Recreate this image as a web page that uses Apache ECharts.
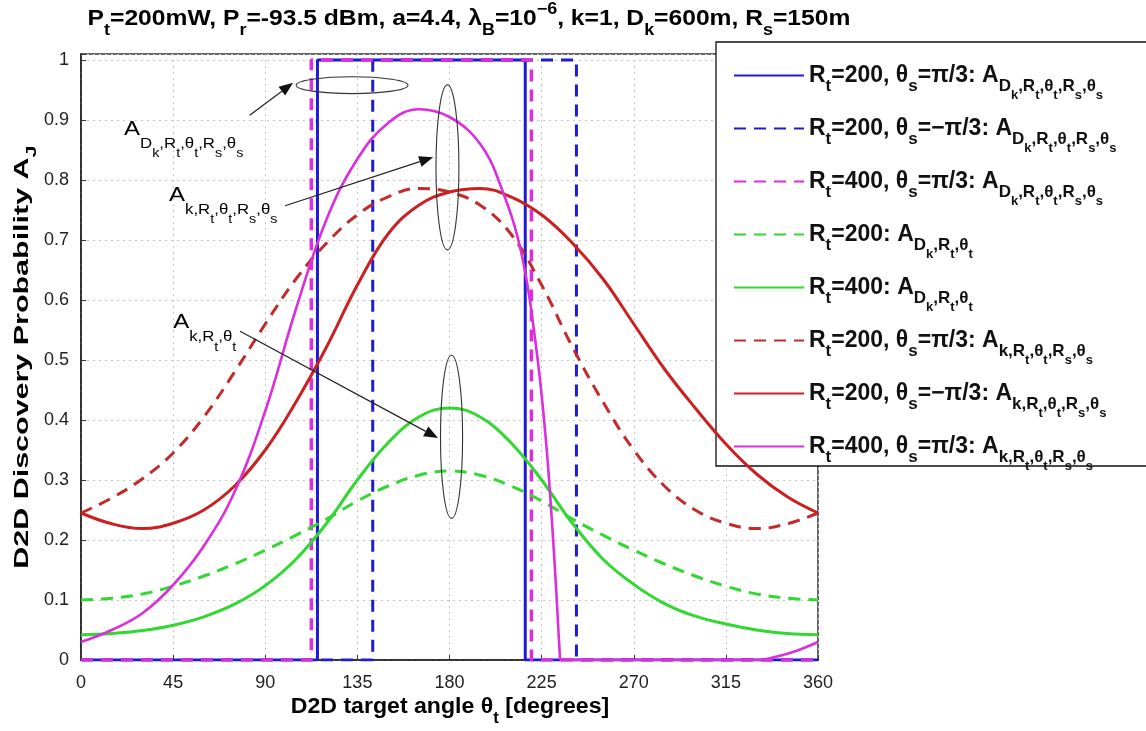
<!DOCTYPE html>
<html><head><meta charset="utf-8">
<script src="https://cdn.jsdelivr.net/npm/echarts@6/dist/echarts.min.js"></script>
<style>html,body{margin:0;padding:0;background:#fff}#c{width:1146px;height:731px}</style>
</head><body><div id="c"></div>
<script>
// ---- data ----
const angles = [0,15,30,45,60,75,90,105,120,135,150,165,180,195,210,225,240,255,270,285,300,315,330,345,360];
const greenDashed = [0.100,0.103,0.110,0.123,0.140,0.160,0.183,0.208,0.235,0.265,0.290,0.308,0.315,0.308,0.290,0.265,0.235,0.208,0.183,0.160,0.140,0.123,0.110,0.103,0.100];
const greenSolid  = [0.042,0.044,0.049,0.058,0.072,0.093,0.124,0.168,0.228,0.300,0.362,0.405,0.420,0.405,0.362,0.300,0.228,0.168,0.126,0.094,0.073,0.060,0.050,0.044,0.042];
const redDashed   = [0.245,0.270,0.302,0.345,0.405,0.480,0.560,0.635,0.695,0.742,0.772,0.786,0.780,0.758,0.710,0.625,0.522,0.430,0.350,0.290,0.250,0.228,0.219,0.227,0.245];
const redSolid    = [0.245,0.227,0.219,0.228,0.250,0.290,0.350,0.430,0.522,0.625,0.710,0.758,0.780,0.786,0.772,0.742,0.695,0.635,0.560,0.485,0.420,0.360,0.310,0.272,0.245];
const magentaAngles = [0,15,30,45,60,75,90,105,120,135,150,165,180,195,205,215,222,227,231,234];
const magentaSolid  = [0.030,0.050,0.078,0.125,0.190,0.280,0.415,0.585,0.735,0.835,0.895,0.918,0.905,0.860,0.790,0.680,0.530,0.370,0.180,0.000];
const magentaTailAngles = [234,330,340,350,360];
const magentaTail       = [0.000,0.000,0.006,0.016,0.030];
const blueSolidAngles   = [0,115.5,115.5,217,217,360];
const blueDashedAngles  = [0,142.5,142.5,242,242,360];
const magDashedAngles   = [0,112.5,112.5,220,220,360];
const rectValues        = [0,0,1,1,0,0];
const xTicks = [0,45,90,135,180,225,270,315,360];
const yTicks = [0,0.1,0.2,0.3,0.4,0.5,0.6,0.7,0.8,0.9,1];

const subD = '{s|D}{ss|k}{s|,R}{ss|t}{s|,θ}{ss|t}{s|,R}{ss|s}{s|,θ}{ss|s}';
const subK = '{s|k,R}{ss|t}{s|,θ}{ss|t}{s|,R}{ss|s}{s|,θ}{ss|s}';
const legendText = {
  s1: '{b|R}{s|t}{b|=200, θ}{s|s}{b|=π/3: A}' + subD,
  s2: '{b|R}{s|t}{b|=200, θ}{s|s}{b|=−π/3: A}' + subD,
  s3: '{b|R}{s|t}{b|=400, θ}{s|s}{b|=π/3: A}' + subD,
  s4: '{b|R}{s|t}{b|=200: A}{s|D}{ss|k}{s|,R}{ss|t}{s|,θ}{ss|t}',
  s5: '{b|R}{s|t}{b|=400: A}{s|D}{ss|k}{s|,R}{ss|t}{s|,θ}{ss|t}',
  s6: '{b|R}{s|t}{b|=200, θ}{s|s}{b|=π/3: A}' + subK,
  s7: '{b|R}{s|t}{b|=200, θ}{s|s}{b|=−π/3: A}' + subK,
  s8: '{b|R}{s|t}{b|=400, θ}{s|s}{b|=π/3: A}' + subK
};

const FONT = 'Liberation Sans';
// shift: vertical offset of a token's centre (px, + = down), done with asymmetric padding
function pad(shift) { return shift >= 0 ? [Math.round(2*shift),0,0,0] : [0,0,Math.round(-2*shift),0]; }
function richSet(weight, base, o) {
  o = o || {};
  const c = o.color || '#111';
  const bs = o.baseShift || 0, sd = o.sub || 0.66*base, ssd = o.subsub || 1.15*base, sp = o.sup || 0.45*base;
  const s = Math.round(base * 0.72), ss = o.ssSize || Math.round(base * 0.6);
  return {
    b:  {fontFamily: FONT, fontWeight: weight, fontSize: base, color: c, lineHeight: base, padding: pad(bs)},
    s:  {fontFamily: FONT, fontWeight: weight, fontSize: s, color: c, lineHeight: s, padding: pad(bs + sd)},
    ss: {fontFamily: FONT, fontWeight: weight, fontSize: ss, color: c, lineHeight: ss, padding: pad(bs + ssd)},
    p:  {fontFamily: FONT, fontWeight: weight, fontSize: s, color: c, lineHeight: s, padding: pad(bs - sp)}
  };
}

const BLUE = '#1c1cd2', MAG = '#dc2edc', GREEN = '#30d830', RED = '#cc2020', RED2 = '#c42a2a';
const DASH = [12, 8];
function pairs(xs, ys) { return xs.map((x, i) => [x, ys[i]]); }
function mk(id, xs, ys, color, dashed, width, smooth) {
  return {
    name: id, type: 'line', data: pairs(xs, ys), symbol: 'none', showSymbol: false,
    smooth: smooth ? 0.4 : false, silent: true,
    lineStyle: {color: color, width: width, type: dashed ? DASH : 'solid', cap: 'butt'},
    itemStyle: {color: color}
  };
}

const chart = echarts.init(document.getElementById('c'), null, {renderer: 'canvas'});
const option = {
  animation: false,
  backgroundColor: '#fff',
  grid: {left: 81, right: 328, top: 54, bottom: 71, show: true, borderColor: '#666', borderWidth: 2, backgroundColor: 'transparent'},
  xAxis: {
    type: 'value', min: 0, max: 360, interval: 45,
    axisLine: {show: true, onZero: false, lineStyle: {color: '#222', width: 1.5}},
    axisTick: {show: true, inside: true, length: 5, lineStyle: {color: '#333'}},
    axisLabel: {fontFamily: FONT, fontSize: 18, color: '#222', margin: 14,
      formatter: v => xTicks.includes(v) ? String(v) : ''},
    splitLine: {show: true, lineStyle: {color: '#c8c8c8', type: [2, 4], width: 1}}
  },
  yAxis: {
    type: 'value', min: 0, max: 1.01, interval: 0.1,
    axisLine: {show: true, onZero: false, lineStyle: {color: '#222', width: 1.5}},
    axisTick: {show: true, inside: true, length: 5, lineStyle: {color: '#333'}},
    axisLabel: {fontFamily: FONT, fontSize: 18, color: '#222', margin: 12,
      formatter: v => { const t = yTicks.find(y => Math.abs(y - v) < 1e-6); return t === undefined ? '' : String(t); }},
    splitLine: {show: true, lineStyle: {color: '#c8c8c8', type: [2, 4], width: 1}}
  },
  legend: {
    orient: 'vertical', left: 716, top: 42, z: 5,
    backgroundColor: 'transparent', borderWidth: 0,
    padding: [7, 120, 2, 17], itemGap: 0, itemWidth: 70, itemHeight: 14,
    data: ['s1','s2','s3','s4','s5','s6','s7','s8'],
    formatter: n => legendText[n],
    itemStyle: {opacity: 0},
    textStyle: {rich: richSet('bold', 23, {sub: 11, subsub: 20, ssSize: 13})}
  },
  series: [
    mk('s1', blueSolidAngles, rectValues, BLUE, false, 3, false),
    mk('s2', blueDashedAngles, rectValues, BLUE, true, 3, false),
    mk('s3', magDashedAngles, rectValues, MAG, true, 3.5, false),
    mk('s4', angles, greenDashed, GREEN, true, 3, true),
    mk('s5', angles, greenSolid, GREEN, false, 3, true),
    mk('s6', angles, redDashed, RED2, true, 3, true),
    mk('s7', angles, redSolid, RED, false, 3, true),
    mk('s8', magentaAngles, magentaSolid, MAG, false, 2.6, true),
    mk('s8', magentaTailAngles, magentaTail, MAG, false, 2.6, true)
  ]
};
chart.setOption(option);

// ---- annotations (placed in data coordinates) ----
const ellipses = [
  {c: [132.4, 0.958], rx: 27.3, ry: 0.014},
  {c: [179.0, 0.821], rx: 5.6, ry: 0.1375},
  {c: [181.0, 0.372], rx: 5.4, ry: 0.136}
];
const arrows = [
  {from: [82.4, 0.908], to: [103.6, 0.962]},
  {from: [99.7, 0.757], to: [172.0, 0.838]},
  {from: [77.7, 0.548], to: [174.4, 0.370]}
];
const labels = [
  {at: [21.0, 0.885], text: '{b|A}' + subD},
  {at: [43.0, 0.775], text: '{b|A}' + subK},
  {at: [45.0, 0.563], text: '{b|A}{s|k,R}{ss|t}{s|,θ}{ss|t}'}
];
const P = p => chart.convertToPixel({gridIndex: 0}, p);
const g = [];
// legend frame (behind legend items, above the curves)
g.push({type: 'rect', z: 3, shape: {x: 716, y: 42, width: 460, height: 424},
  style: {fill: '#fff', stroke: '#111', lineWidth: 1.3}});
ellipses.forEach(e => {
  const c = P(e.c), r = P([e.c[0] + e.rx, e.c[1] + e.ry]);
  g.push({type: 'ellipse', z: 100, shape: {cx: c[0], cy: c[1], rx: Math.abs(r[0]-c[0]), ry: Math.abs(r[1]-c[1])},
    style: {fill: null, stroke: '#333', lineWidth: 1.1}});
});
arrows.forEach(a => {
  const f = P(a.from), t = P(a.to);
  const ang = Math.atan2(t[1]-f[1], t[0]-f[0]);
  const L = 14, W = 5.5;
  const bx = t[0] - L*Math.cos(ang), by = t[1] - L*Math.sin(ang);
  g.push({type: 'line', z: 100, shape: {x1: f[0], y1: f[1], x2: bx, y2: by}, style: {stroke: '#222', lineWidth: 1.2}});
  g.push({type: 'polygon', z: 100, shape: {points: [t,
    [bx + W*Math.sin(ang), by - W*Math.cos(ang)],
    [bx - W*Math.sin(ang), by + W*Math.cos(ang)]]}, style: {fill: '#111'}});
});
labels.forEach(l => {
  const p = P(l.at);
  g.push({type: 'text', z: 100, x: p[0], y: p[1], scaleX: 1.2,
    style: {text: l.text, rich: richSet('normal', 20, {color: '#333', sub: 15, subsub: 25}), align: 'left', verticalAlign: 'middle'}});
});
// title
g.push({type: 'text', z: 100, x: 469, y: 19, scaleX: 1.12,
  style: {text: '{b|P}{s|t}{b|=200mW, P}{s|r}{b|=-93.5 dBm, a=4.4, λ}{s|B}{b|=10}{p|−6}{b|, k=1, D}{s|k}{b|=600m, R}{s|s}{b|=150m}',
    rich: richSet('bold', 22, {sub: 12, sup: 9}), align: 'center', verticalAlign: 'middle'}});
// x axis title
g.push({type: 'text', z: 100, x: 450, y: 707, scaleX: 1.05,
  style: {text: '{b|D2D target angle θ}{s|t}{b| [degrees]}', rich: richSet('bold', 22, {sub: 12}), align: 'center', verticalAlign: 'middle'}});
// y axis title (stretched along its length like the reference)
g.push({type: 'text', z: 100, x: 22, y: 357, rotation: Math.PI / 2, scaleX: 1.45,
  style: {text: '{b|D2D Discovery Probability A}{s|J}', rich: richSet('bold', 21, {sub: 10}), align: 'center', verticalAlign: 'middle'}});
chart.setOption({graphic: g});
</script>
</body></html>
